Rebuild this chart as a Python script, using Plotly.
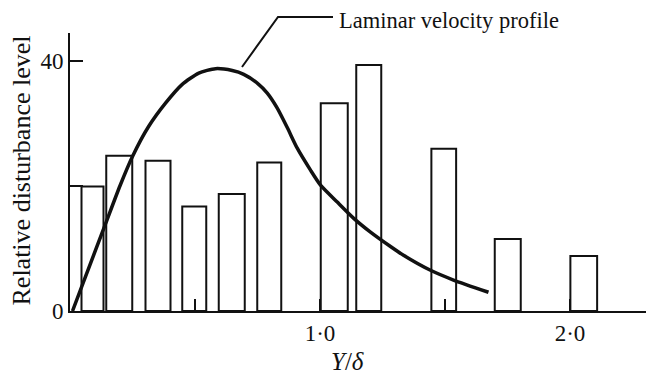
import plotly.graph_objects as go

# Disturbance-level bars (histogram-like blocks)
bar_x = [0.090, 0.197, 0.352, 0.497, 0.647, 0.797, 1.057, 1.195, 1.495, 1.751, 2.055]
bar_width = [0.088, 0.104, 0.100, 0.096, 0.104, 0.096, 0.108, 0.100, 0.099, 0.104, 0.107]
bar_level = [19.9, 24.8, 24.0, 16.7, 18.7, 23.7, 33.2, 39.3, 25.9, 11.5, 8.8]

# Laminar velocity profile curve
curve_x = [0.01, 0.062, 0.142, 0.200, 0.249, 0.315, 0.382, 0.449, 0.515, 0.582, 0.649, 0.695,
           0.749, 0.789, 0.829, 0.869, 0.909, 0.962, 1.002, 1.069, 1.135, 1.202,
           1.282, 1.334, 1.442, 1.534, 1.674]
curve_y = [0.0, 5.5, 13.9, 20.0, 24.6, 29.5, 33.2, 36.2, 38.0, 38.7, 38.4, 37.8,
           36.4, 34.8, 32.4, 29.3, 26.0, 22.5, 20.1, 17.4, 14.8, 12.6,
           10.3, 8.9, 6.5, 4.95, 3.0]

x_tickvals = [0.5, 1.0, 1.5, 2.0]
x_ticktext = ["", "1·0", "", "2·0"]
y_tickvals = [0, 20, 40]
y_ticktext = ["0", "", "40"]

FONT = "Liberation Serif"
INK = "#111111"

fig = go.Figure()
fig.add_trace(go.Bar(
    x=bar_x, y=bar_level, width=bar_width,
    marker=dict(color="rgba(0,0,0,0)", line=dict(color=INK, width=2)),
    showlegend=False,
))
fig.add_trace(go.Scatter(
    x=curve_x, y=curve_y, mode="lines",
    line=dict(color=INK, width=3.5, shape="spline", smoothing=0.6),
    showlegend=False,
))

fig.update_layout(
    width=646, height=376,
    margin=dict(l=70, r=0, t=33, b=65),
    paper_bgcolor="white", plot_bgcolor="white",
    font=dict(family=FONT, color=INK, size=22),
    xaxis=dict(range=[0, 2.304], showline=True, linecolor=INK, linewidth=2,
               showgrid=False, zeroline=False,
               tickvals=x_tickvals, ticktext=x_ticktext,
               ticks="inside", ticklen=12, tickwidth=2, tickcolor=INK,
               tickfont=dict(family=FONT, size=23, color=INK)),
    yaxis=dict(range=[0, 44.4], showline=True, linecolor=INK, linewidth=2,
               showgrid=False, zeroline=False,
               tickvals=y_tickvals, ticktext=y_ticktext,
               ticks="inside", ticklen=13, tickwidth=2, tickcolor=INK,
               tickfont=dict(family=FONT, size=23, color=INK)),
    shapes=[dict(type="path", xref="paper", yref="paper",
                 path="M 0.2986 0.8777 L 0.3611 1.0576 L 0.4566 1.0576",
                 line=dict(color=INK, width=2))],
    annotations=[
        dict(text="Laminar velocity profile", xref="paper", yref="paper",
             x=0.4635, y=1.045, xanchor="left", yanchor="middle", showarrow=False,
             font=dict(family=FONT, size=22.5, color=INK)),
        dict(text="<i>Y</i>/<i>δ</i>", xref="paper", yref="paper",
             x=0.4826, y=-0.18, xanchor="center", yanchor="middle", showarrow=False,
             font=dict(family=FONT, size=25, color=INK)),
        dict(text="Relative disturbance level", xref="paper", yref="paper",
             x=-0.0842, y=0.5036, xanchor="center", yanchor="middle", textangle=-90,
             showarrow=False, font=dict(family=FONT, size=26, color=INK)),
    ],
)

fig.write_html("out.html")
